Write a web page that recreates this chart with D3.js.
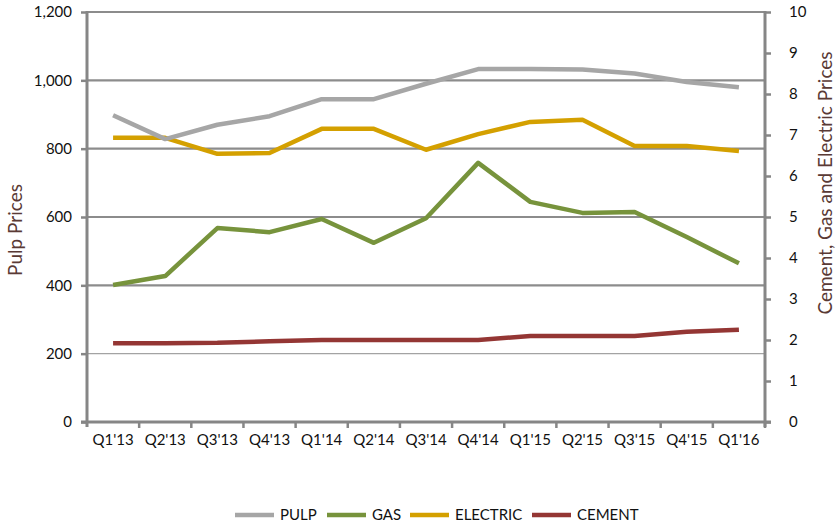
<!DOCTYPE html>
<html>
<head>
<meta charset="utf-8">
<script src="https://cdn.jsdelivr.net/npm/d3@7"></script>
<style>
  body { margin: 0; background: #fff; }
  text { font-family: Lato, "Open Sans", sans-serif; }
</style>
</head>
<body>
<div id="chart"></div>
<script>
var quarters = ["Q1'13", "Q2'13", "Q3'13", "Q4'13", "Q1'14", "Q2'14", "Q3'14",
                "Q4'14", "Q1'15", "Q2'15", "Q3'15", "Q4'15", "Q1'16"];

// left axis
var pulp = [898, 828, 870, 895, 945, 945, 990, 1033, 1033, 1032, 1020, 995, 980];
// right axis
var gas = [3.34, 3.56, 4.73, 4.63, 4.95, 4.37, 4.97, 6.32, 5.37, 5.10, 5.12, 4.51, 3.87];
var electric = [6.93, 6.93, 6.54, 6.56, 7.15, 7.15, 6.64, 7.02, 7.32, 7.37, 6.73, 6.73, 6.61];
var cement = [1.92, 1.92, 1.93, 1.97, 2.0, 2.0, 2.0, 2.0, 2.1, 2.1, 2.1, 2.2, 2.25];

var leftTicks = [0, 200, 400, 600, 800, 1000, 1200];
var rightTicks = [0, 1, 2, 3, 4, 5, 6, 7, 8, 9, 10];

var width = 838,
    height = 527,
    x0 = 87, x1 = 765,
    yTop = 12, yBot = 422,
    axisColor = "#868686";

var series = [
    {name: "PULP", values: pulp, axis: "left", color: "#a6a6a6"},
    {name: "GAS", values: gas, axis: "right", color: "#77933c"},
    {name: "ELECTRIC", values: electric, axis: "right", color: "#d4a000"},
    {name: "CEMENT", values: cement, axis: "right", color: "#943634"}
];

var svg = d3.select("#chart").append("svg")
    .attr("width", width)
    .attr("height", height);

var x = d3.scaleBand().domain(quarters).range([x0, x1]);
var yL = d3.scaleLinear().domain([0, 1200]).range([yBot, yTop]);
var yR = d3.scaleLinear().domain([0, 10]).range([yBot, yTop]);

// gridlines
svg.append("g")
    .selectAll("line")
    .data(leftTicks.filter(function(d) { return d > 0; }))
    .enter().append("line")
    .attr("x1", x0).attr("x2", x1)
    .attr("y1", function(d) { return yL(d); })
    .attr("y2", function(d) { return yL(d); })
    .attr("stroke", function(d) { return d === 200 ? "#a3a3a3" : "#8c8c8c"; })
    .attr("stroke-width", function(d) { return d === 200 ? 1.2 : 2.2; });

// left axis
var gl = svg.append("g")
    .attr("transform", "translate(" + x0 + ",0)")
    .call(d3.axisLeft(yL).tickValues(leftTicks).tickSize(6).tickPadding(9)
        .tickFormat(d3.format(",")));

// right axis
var gr = svg.append("g")
    .attr("transform", "translate(" + x1 + ",0)")
    .call(d3.axisRight(yR).tickValues(rightTicks).tickSize(6).tickPadding(18));

// bottom axis, tick marks sit between categories
var gb = svg.append("g")
    .attr("transform", "translate(0," + yBot + ")")
    .call(d3.axisBottom(x).tickSize(0).tickPadding(12));

gb.selectAll(".tickmark")
    .data(quarters)
    .enter().append("line")
    .attr("class", "tickmark")
    .attr("x1", function(d) { return x(d) + x.bandwidth(); })
    .attr("x2", function(d) { return x(d) + x.bandwidth(); })
    .attr("y1", 0).attr("y2", 6)
    .attr("stroke", axisColor).attr("stroke-width", 2.5);

[gl, gr, gb].forEach(function(g) {
    g.select(".domain").attr("stroke", axisColor).attr("stroke-width", 3);
    g.selectAll(".tick line").attr("stroke", axisColor).attr("stroke-width", 2.5);
    g.selectAll(".tick text").attr("fill", "#111").style("font-size", "15px")
        .style("font-family", "Lato, 'Open Sans', sans-serif");
});
gl.select(".domain").attr("d", "M-0," + (yTop - 1) + "V" + (yBot + 5));
gr.select(".domain").attr("d", "M0," + (yTop - 1) + "V" + (yBot + 5));
gb.select(".domain").attr("d", "M" + (x0 - 6) + ",0H" + (x1 + 6));

// lines
var cx = function(i) { return x(quarters[i]) + x.bandwidth() / 2; };

svg.append("g")
    .selectAll("path")
    .data(series.slice().reverse())
    .enter().append("path")
    .attr("fill", "none")
    .attr("stroke", function(d) { return d.color; })
    .attr("stroke-width", 4.5)
    .attr("stroke-linejoin", "round")
    .attr("d", function(s) {
        var yy = s.axis === "left" ? yL : yR;
        return d3.line()
            .x(function(d, i) { return cx(i); })
            .y(function(d) { return yy(d); })(s.values);
    });

// axis titles
svg.append("text")
    .attr("transform", "translate(22,230) rotate(-90)")
    .attr("text-anchor", "middle")
    .attr("fill", "#5a3a35")
    .style("font-size", "19px")
    .text("Pulp Prices");

svg.append("text")
    .attr("transform", "translate(832,183) rotate(-90)")
    .attr("text-anchor", "middle")
    .attr("fill", "#5a3a35")
    .style("font-size", "19px")
    .text("Cement, Gas and Electric Prices");

// legend
var legendX = [235, 327, 410, 532];
var legend = svg.append("g")
    .selectAll("g")
    .data(series)
    .enter().append("g")
    .attr("transform", function(d, i) { return "translate(" + legendX[i] + ",515)"; });

legend.append("line")
    .attr("x1", 0).attr("x2", 39)
    .attr("stroke", function(d) { return d.color; })
    .attr("stroke-width", 4.5);

legend.append("text")
    .attr("x", 45)
    .attr("dy", "0.35em")
    .attr("fill", "#111")
    .style("font-size", "15px")
    .text(function(d) { return d.name; });
</script>
</body>
</html>
